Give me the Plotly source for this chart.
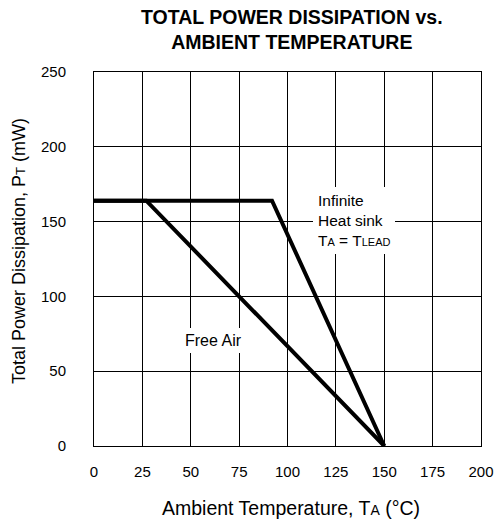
import plotly.graph_objects as go

# Data
free_air_x = [0, 27, 150]
free_air_y = [164, 164, 0]
heatsink_x = [0, 92, 150]
heatsink_y = [164, 164, 0]
x_ticks = [0, 25, 50, 75, 100, 125, 150, 175, 200]
y_ticks = [0, 50, 100, 150, 200, 250]

FONT = "Liberation Sans, Arial, sans-serif"

fig = go.Figure()
fig.add_trace(go.Scatter(x=heatsink_x, y=heatsink_y, mode="lines",
                         line=dict(color="black", width=4), showlegend=False))
fig.add_trace(go.Scatter(x=free_air_x, y=free_air_y, mode="lines",
                         line=dict(color="black", width=4), showlegend=False))

annotations = [
    dict(x=113.4, y=150.9, xref="x", yref="y", xanchor="left", yanchor="middle",
         text="Infinite<br>Heat sink<br>T<span style='font-size:11px'>A</span> = T<span style='font-size:11px'>LEAD</span>",
         align="left", showarrow=False, bgcolor="white", borderpad=5, borderwidth=0,
         font=dict(family=FONT, size=15.5, color="black")),
    dict(x=61.6, y=70.7, xref="x", yref="y", xanchor="center", yanchor="middle",
         text="Free Air", showarrow=False, bgcolor="white", borderpad=4, borderwidth=0,
         font=dict(family=FONT, size=16, color="black")),
    # Title
    dict(x=0.5, y=1, xref="paper", yref="paper", xanchor="center", yanchor="middle",
         xshift=4, yshift=42.5, showarrow=False,
         text="<b>TOTAL POWER DISSIPATION vs.<br>AMBIENT TEMPERATURE</b>",
         font=dict(family=FONT, size=19.5, color="black")),
    # X axis title
    dict(x=0.5, y=0, xref="paper", yref="paper", xanchor="center", yanchor="middle",
         xshift=3, yshift=-62, showarrow=False,
         text="Ambient Temperature, T<span style='font-size:14px'>A</span> (°C)",
         font=dict(family=FONT, size=19.5, color="black")),
    # Y axis title
    dict(x=0, y=0.5, xref="paper", yref="paper", xanchor="center", yanchor="middle",
         xshift=-75, yshift=8, textangle=-90, showarrow=False,
         text="Total Power Dissipation, P<span style='font-size:13px'>T</span> (mW)",
         font=dict(family=FONT, size=18, color="black")),
]

fig.update_layout(
    width=494, height=524,
    margin=dict(l=94, r=13, t=72, b=78),
    paper_bgcolor="white", plot_bgcolor="white",
    font=dict(family=FONT, size=15, color="black"),
    annotations=annotations,
)

fig.update_xaxes(range=[0, 200], tickvals=x_ticks, ticktext=[str(v) for v in x_ticks],
                 showgrid=True, gridcolor="black", gridwidth=1,
                 showline=True, linecolor="black", linewidth=1, mirror=True,
                 ticks="", ticklabelstandoff=12, zeroline=False, automargin=False,
                 tickfont=dict(family=FONT, size=15))
fig.update_yaxes(range=[0, 250], tickvals=y_ticks, ticktext=[str(v) for v in y_ticks],
                 showgrid=True, gridcolor="black", gridwidth=1,
                 showline=True, linecolor="black", linewidth=1, mirror=True,
                 ticks="", ticklabelstandoff=24, zeroline=False, automargin=False,
                 tickfont=dict(family=FONT, size=15))

fig.write_html("out.html")
